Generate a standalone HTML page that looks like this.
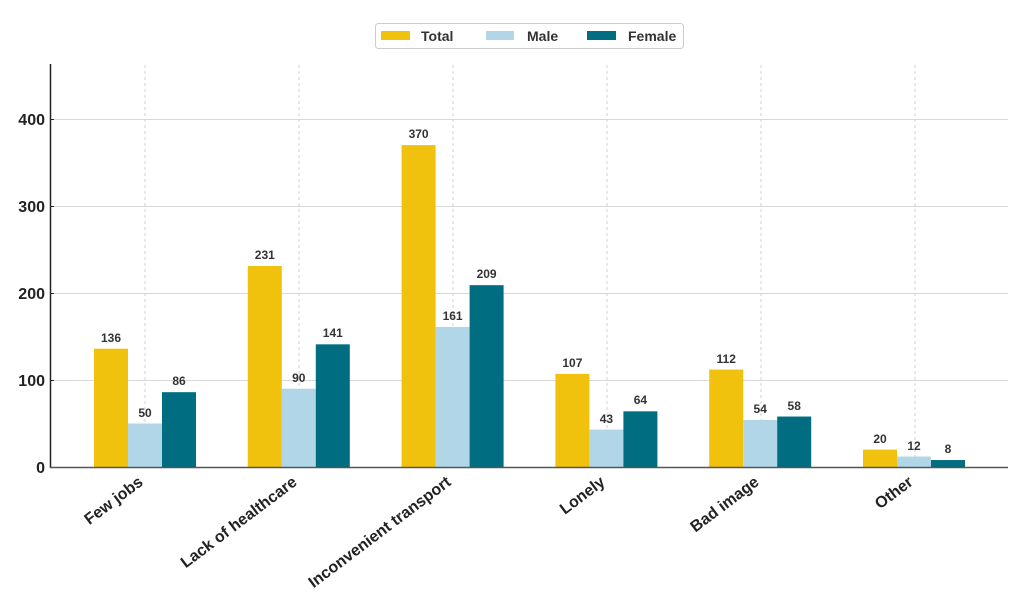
<!DOCTYPE html>
<html><head><meta charset="utf-8"><style>
body{margin:0;background:#fff;}
svg{display:block;font-family:"Liberation Sans",sans-serif;font-weight:bold;}
</style></head><body>
<svg width="1024" height="614" viewBox="0 0 1024 614">
<g stroke="#d9d9d9" stroke-width="1">
<line x1="50" y1="380.5" x2="1008" y2="380.5"/>
<line x1="50" y1="293.5" x2="1008" y2="293.5"/>
<line x1="50" y1="206.5" x2="1008" y2="206.5"/>
<line x1="50" y1="119.5" x2="1008" y2="119.5"/>
</g>
<g stroke="#d0d0d0" stroke-width="1" stroke-dasharray="3,3">
<line x1="145" y1="65" x2="145" y2="467"/>
<line x1="299" y1="65" x2="299" y2="467"/>
<line x1="453" y1="65" x2="453" y2="467"/>
<line x1="607" y1="65" x2="607" y2="467"/>
<line x1="761" y1="65" x2="761" y2="467"/>
<line x1="915" y1="65" x2="915" y2="467"/>
</g>
<g>
<rect x="94" y="348.68" width="34" height="118.32" fill="#F0C20E"/>
<rect x="128" y="423.5" width="34" height="43.5" fill="#B0D6E8"/>
<rect x="162" y="392.18" width="34" height="74.82" fill="#006D80"/>
<rect x="247.8" y="266.03" width="34" height="200.97" fill="#F0C20E"/>
<rect x="281.8" y="388.7" width="34" height="78.3" fill="#B0D6E8"/>
<rect x="315.8" y="344.33" width="34" height="122.67" fill="#006D80"/>
<rect x="401.6" y="145.1" width="34" height="321.9" fill="#F0C20E"/>
<rect x="435.6" y="326.93" width="34" height="140.07" fill="#B0D6E8"/>
<rect x="469.6" y="285.17" width="34" height="181.83" fill="#006D80"/>
<rect x="555.4" y="373.91" width="34" height="93.09" fill="#F0C20E"/>
<rect x="589.4" y="429.59" width="34" height="37.41" fill="#B0D6E8"/>
<rect x="623.4" y="411.32" width="34" height="55.68" fill="#006D80"/>
<rect x="709.2" y="369.56" width="34" height="97.44" fill="#F0C20E"/>
<rect x="743.2" y="420.02" width="34" height="46.98" fill="#B0D6E8"/>
<rect x="777.2" y="416.54" width="34" height="50.46" fill="#006D80"/>
<rect x="863" y="449.6" width="34" height="17.4" fill="#F0C20E"/>
<rect x="897" y="456.56" width="34" height="10.44" fill="#B0D6E8"/>
<rect x="931" y="460.04" width="34" height="6.96" fill="#006D80"/>
</g>
<g font-size="12" fill="#333" text-anchor="middle">
<text x="111" y="342">136</text><text x="145" y="417">50</text><text x="179" y="385">86</text>
<text x="264.8" y="259">231</text><text x="298.8" y="382">90</text><text x="332.8" y="337">141</text>
<text x="418.6" y="138">370</text><text x="452.6" y="320">161</text><text x="486.6" y="278">209</text>
<text x="572.4" y="367">107</text><text x="606.4" y="423">43</text><text x="640.4" y="404">64</text>
<text x="726.2" y="363">112</text><text x="760.2" y="413">54</text><text x="794.2" y="410">58</text>
<text x="880" y="443">20</text><text x="914" y="450">12</text><text x="948" y="453">8</text>
</g>
<line x1="50.5" y1="64" x2="50.5" y2="468" stroke="#222" stroke-width="1.5"/>
<line x1="50" y1="467.5" x2="1008" y2="467.5" stroke="#555" stroke-width="1.5"/>
<g font-size="16" fill="#222" text-anchor="end">
<text x="45" y="473">0</text>
<text x="45" y="386">100</text>
<text x="45" y="299">200</text>
<text x="45" y="212">300</text>
<text x="45" y="125">400</text>
</g>
<g stroke="#222"><line x1="50" y1="380.5" x2="54" y2="380.5"/><line x1="50" y1="293.5" x2="54" y2="293.5"/><line x1="50" y1="206.5" x2="54" y2="206.5"/><line x1="50" y1="119.5" x2="54" y2="119.5"/></g>
<g font-size="16" fill="#222" text-anchor="end">
<text transform="translate(144,484) rotate(-37)">Few jobs</text>
<text transform="translate(298,484) rotate(-37)">Lack of healthcare</text>
<text transform="translate(452,484) rotate(-37)">Inconvenient transport</text>
<text transform="translate(606,484) rotate(-37)">Lonely</text>
<text transform="translate(760,484) rotate(-37)">Bad image</text>
<text transform="translate(914,484) rotate(-37)">Other</text>
</g>
<rect x="375.5" y="23.5" width="308" height="25" rx="3" fill="#fff" stroke="#ccc"/>
<rect x="381" y="31" width="29" height="9" fill="#F0C20E"/>
<rect x="486" y="31" width="28" height="9" fill="#B0D6E8"/>
<rect x="587" y="31" width="29" height="9" fill="#006D80"/>
<g font-size="14" fill="#333"><text x="421" y="41">Total</text><text x="527" y="41">Male</text><text x="628" y="41">Female</text></g>
</svg>
</body></html>
